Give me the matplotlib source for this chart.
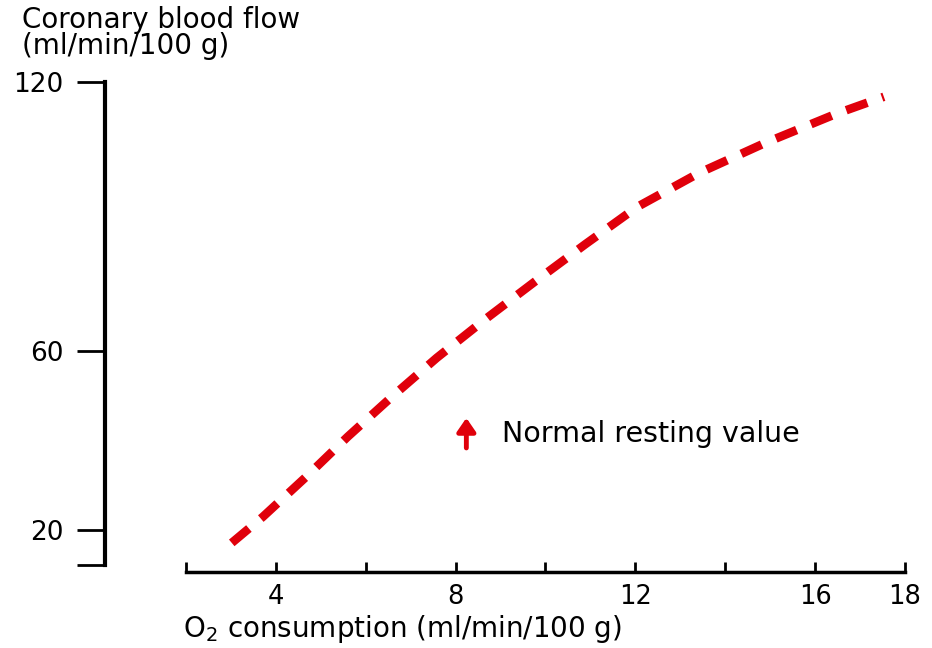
import matplotlib.pyplot as plt

plt.rcParams['font.family'] = ['DejaVu Sans']

# coronary blood flow vs myocardial O2 consumption
o2_consumption = [3.02, 3.71, 4.67, 5.60, 6.58, 7.58, 8.67, 9.76, 10.89,
                  12.04, 13.42, 14.89, 16.47, 17.53]
blood_flow = [17.1, 22.9, 31.8, 40.8, 49.7, 58.4, 67.1, 75.4, 83.8,
              92.1, 99.7, 106.4, 112.9, 116.7]

x_ticks = [2, 4, 6, 8, 10, 12, 14, 16, 18]
x_labels = ['', '4', '', '8', '', '12', '', '16', '18']
y_ticks = [12.2, 20, 60, 120]
y_labels = ['', '20', '60', '120']

resting_x = 8.24
resting_y = (38.3, 45.0)

fig = plt.figure(figsize=(9.32, 6.48), dpi=100)
ax = fig.add_axes([105 / 932, 1 - 572 / 648, 800 / 932, 490 / 648])

ax.plot(o2_consumption, blood_flow, color='#e0000b', lw=6.2,
        dashes=(2.6, 1.8), solid_capstyle='butt', dash_capstyle='butt')

ax.annotate('', xy=(resting_x, resting_y[1]), xytext=(resting_x, resting_y[0]),
            arrowprops=dict(arrowstyle='-|>,head_width=0.55,head_length=0.8',
                            color='#e0000b', lw=3.5, shrinkA=0, shrinkB=0))
ax.text(502 / 45 - 276 / 45 + 4, 41.5, 'Normal resting value', fontsize=20.5,
        va='center', ha='left')

ax.set_xlim(0.2, 18.0)
ax.set_ylim(10.6, 120)

for side in ('top', 'right'):
    ax.spines[side].set_visible(False)
ax.spines['left'].set_linewidth(3)
ax.spines['left'].set_bounds(12.2, 120)
ax.spines['bottom'].set_linewidth(2.5)
ax.spines['bottom'].set_bounds(2, 18)

ax.set_xticks(x_ticks)
ax.set_xticklabels(x_labels)
ax.set_yticks(y_ticks)
ax.set_yticklabels(y_labels)
ax.tick_params(axis='x', direction='in', length=7, width=2, pad=9, labelsize=18.5)
ax.tick_params(axis='y', direction='out', length=20, width=2, pad=10, labelsize=19)

fig.text(22 / 932, 1 - 20 / 648, 'Coronary blood flow', fontsize=20,
         va='center', ha='left')
fig.text(22 / 932, 1 - 46 / 648, '(ml/min/100 g)', fontsize=20,
         va='center', ha='left')
fig.text(183 / 932, 1 - 629 / 648, 'O$_2$ consumption (ml/min/100 g)',
         fontsize=20, va='center', ha='left')

fig.savefig('out.png', dpi=100)
